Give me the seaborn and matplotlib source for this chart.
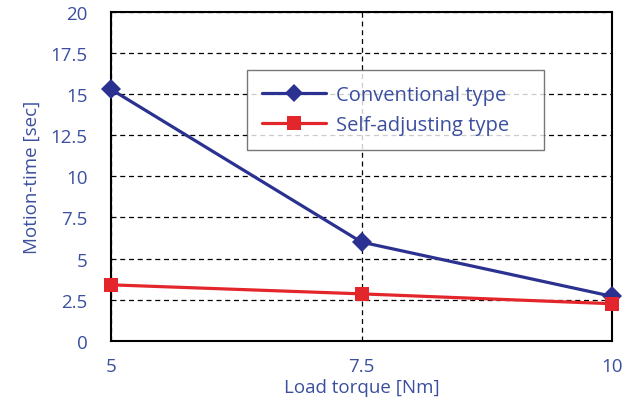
import numpy as np
import pandas as pd
import seaborn as sns
import matplotlib.pyplot as plt

# values
load_torque = [5, 7.5, 10]
conventional = [15.3, 6.0, 2.7]
self_adjusting = [3.4, 2.85, 2.25]
series_names = ["Conventional type", "Self-adjusting type"]

df = pd.DataFrame({
    "Load torque": load_torque * 2,
    "Motion-time": conventional + self_adjusting,
    "Type": [series_names[0]] * 3 + [series_names[1]] * 3,
})

sns.set_style("white")
plt.rcParams["font.family"] = ["Open Sans", "DejaVu Sans"]

text_blue = "#3b4f9e"
palette = {series_names[0]: "#2b3190", series_names[1]: "#e3262b"}

fig = plt.figure(figsize=(6.29, 4.02), dpi=100)
ax = fig.add_axes([0.1765, 0.15, 0.7965, 0.8175])

sns.lineplot(data=df, x="Load torque", y="Motion-time", hue="Type", style="Type",
             markers={series_names[0]: "D", series_names[1]: "s"}, dashes=False,
             palette=palette, linewidth=2.3, markersize=10, markeredgewidth=0,
             ax=ax, clip_on=False, zorder=5)

ax.set_xlim(5, 10)
ax.set_ylim(0, 20)
ax.set_xticks(load_torque)
ax.set_xticklabels(["5", "7.5", "10"])
ax.set_yticks(np.arange(0, 20.1, 2.5))
ax.set_yticklabels(["0", "2.5", "5", "7.5", "10", "12.5", "15", "17.5", "20"])
ax.grid(True, color="black", linestyle=(0, (4, 3)), linewidth=0.9)
ax.tick_params(axis="both", length=0, labelsize=13.5, labelcolor=text_blue)
ax.tick_params(axis="x", pad=12)
ax.tick_params(axis="y", pad=17)
for s in ax.spines.values():
    s.set_color("black")
    s.set_linewidth(1.5)

ax.set_xlabel("Load torque [Nm]", fontsize=13.5, color=text_blue, labelpad=2)
ax.set_ylabel("Motion-time [sec]", fontsize=13.5, color=text_blue, labelpad=7)

leg = ax.legend(loc="upper left", bbox_to_anchor=(0.271, 0.5, 0.593, 0.3236),
                mode="expand", borderaxespad=0, fontsize=14.5,
                frameon=True, fancybox=False, handlelength=3.2, borderpad=0.75,
                labelspacing=0.5, handletextpad=0.5)
leg.get_frame().set_edgecolor("#555555")
leg.get_frame().set_linewidth(1.0)
for t in leg.get_texts():
    t.set_color(text_blue)
for h in leg.legend_handles:
    h.set_markersize(9.5)

fig.savefig("out.png", dpi=100)
